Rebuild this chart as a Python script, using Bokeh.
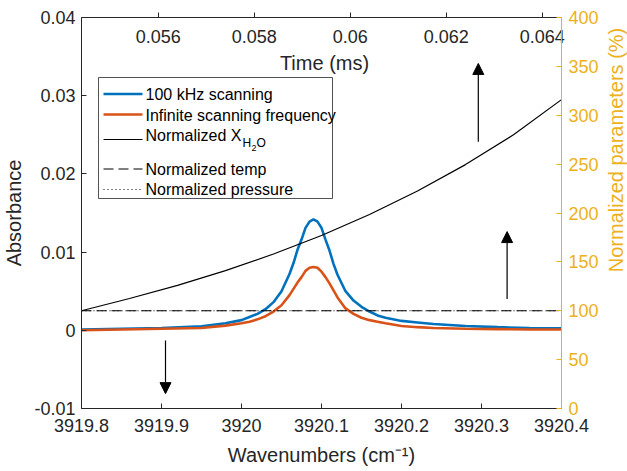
import math
from bokeh.plotting import figure
from bokeh.layouts import row
from bokeh.models import (Range1d, LinearAxis, FixedTicker, Label, Arrow,
                          NormalHead, BoxAnnotation)
from bokeh.embed import file_html
from bokeh.resources import INLINE

# ---------------- data ----------------
wavenumber = [3919.80, 3919.85, 3919.90, 3919.95, 3919.98, 3920.00, 3920.01, 3920.02, 3920.03,
              3920.04, 3920.05, 3920.06, 3920.065, 3920.07, 3920.075, 3920.08, 3920.085,
              3920.09, 3920.095, 3920.10, 3920.105, 3920.11, 3920.115, 3920.12, 3920.13,
              3920.14, 3920.15, 3920.16, 3920.17, 3920.18, 3920.20, 3920.22, 3920.24,
              3920.28, 3920.32, 3920.36, 3920.40]
abs_100khz = [0.0001, 0.0002, 0.0003, 0.0005, 0.0009, 0.0013, 0.0017, 0.0021, 0.0027,
              0.0036, 0.0050, 0.0072, 0.0086, 0.0103, 0.0116, 0.0131, 0.0139,
              0.0142, 0.0139, 0.0131, 0.0116, 0.0102, 0.0085, 0.0071, 0.0050,
              0.0038, 0.0030, 0.0024, 0.0019, 0.0016, 0.0012, 0.0010, 0.0008,
              0.00055, 0.0004, 0.0003, 0.00025]
abs_infinite = [0.0000, 0.0001, 0.0002, 0.0003, 0.0006, 0.0009, 0.0011, 0.0014, 0.0018,
                0.0024, 0.0032, 0.0045, 0.0053, 0.0061, 0.0068, 0.0076, 0.0080,
                0.0081, 0.0080, 0.0075, 0.0068, 0.0060, 0.0051, 0.0042, 0.0028,
                0.0021, 0.0016, 0.0013, 0.0011, 0.0009, 0.00055, 0.0004, 0.0003,
                0.0002, 0.00015, 0.0001, 0.0001]

time_ms = [0.0544, 0.0554, 0.0564, 0.0574, 0.0584, 0.0594, 0.0604, 0.0614, 0.0624, 0.0634, 0.0644]
xh2o_pct = [100, 112.5, 126, 141, 158, 177, 198.5, 222.5, 249.5, 280, 316]
temp_time = [0.0544, 0.0644]
temp_pct = [100, 100]
pres_time = [0.0544, 0.0644]
pres_pct = [100, 100]

x_ticks = [3919.8, 3919.9, 3920.0, 3920.1, 3920.2, 3920.3, 3920.4]
x_tick_labels = ["3919.8", "3919.9", "3920", "3920.1", "3920.2", "3920.3", "3920.4"]
y_ticks = [-0.01, 0.0, 0.01, 0.02, 0.03, 0.04]
y_tick_labels = ["-0.01", "0", "0.01", "0.02", "0.03", "0.04"]
pct_ticks = [0, 50, 100, 150, 200, 250, 300, 350, 400]
pct_tick_labels = ["0", "50", "100", "150", "200", "250", "300", "350", "400"]
time_ticks = [0.056, 0.058, 0.060, 0.062, 0.064]
time_tick_labels = ["0.056", "0.058", "0.06", "0.062", "0.064"]

series_names = ["100 kHz scanning", "Infinite scanning frequency", "Normalized X",
                "Normalized temp", "Normalized pressure"]

# arrows (annotation positions)
arrow_down_wn, arrow_down_abs = 3919.905, (-0.0013, -0.0081)
arrow_up1_wn, arrow_up1_pct = 3920.296, (273, 353)
arrow_up2_wn, arrow_up2_pct = 3920.332, (112, 181)

# ---------------- style ----------------
FONT = "Liberation Sans"
TXT = "#262626"
GOLD = "#EDB120"
BLUE = "#0072BD"
ORANGE = "#D95319"
TICK_FS = "18px"
LAB_FS = "20px"
LEG_FS = "16px"

W_MAIN = 601
FL, FT, FR, FB = 77, 17, 563, 408      # frame edges in canvas px
FH = FB - FT

p = figure(width=W_MAIN, height=471,
           x_range=Range1d(3919.8, 3920.4), y_range=Range1d(-0.01, 0.04),
           output_backend="svg", toolbar_location=None,
           min_border_left=FL, min_border_right=W_MAIN - FR,
           min_border_top=FT, min_border_bottom=471 - FB)
p.extra_x_ranges = {"time": Range1d(0.0544, 0.0644)}
p.extra_y_ranges = {"pct": Range1d(0, 400)}
p.outline_line_color = None
p.grid.visible = False
p.background_fill_color = "white"
p.border_fill_color = "white"


def style_axis(ax, color, ticks, labels, tin, tout):
    ax.ticker = FixedTicker(ticks=ticks)
    ax.major_label_overrides = dict(zip(ticks, labels))
    ax.axis_line_color = color
    ax.axis_line_width = 1
    ax.major_tick_line_color = color
    ax.major_tick_in = tin
    ax.major_tick_out = tout
    ax.minor_tick_line_color = None
    ax.major_label_text_font = FONT
    ax.major_label_text_font_size = TICK_FS
    ax.major_label_text_color = color
    ax.axis_label_text_font = FONT
    ax.axis_label_text_font_size = LAB_FS
    ax.axis_label_text_font_style = "normal"
    ax.axis_label_text_color = color


xb = p.xaxis[0]
style_axis(xb, TXT, x_ticks, x_tick_labels, 5, 0)
xb.major_label_standoff = 10
xb.axis_label = "Wavenumbers (cm\u207b\u00b9)"
xb.axis_label_standoff = 9

yl = p.yaxis[0]
style_axis(yl, TXT, y_ticks, y_tick_labels, 5, 0)
yl.major_label_standoff = 6
yl.axis_label = "Absorbance"
yl.axis_label_standoff = 6

yr = LinearAxis(y_range_name="pct")
style_axis(yr, GOLD, pct_ticks, pct_tick_labels, 5, 0)
yr.major_label_standoff = 7
p.add_layout(yr, "right")

# time axis on top: ticks point outwards, tick labels sit inside the frame
xt = LinearAxis(x_range_name="time")
style_axis(xt, TXT, time_ticks, time_tick_labels, 0, 5)
xt.major_label_standoff = -30
p.add_layout(xt, "above")

p.add_layout(Label(x=(FR - FL) / 2, x_units="screen", y=FB - 62, y_units="screen",
                   text="Time (ms)", text_align="center", text_baseline="middle",
                   text_font=FONT, text_font_size=LAB_FS, text_color=TXT))

# ---------------- curves ----------------
p.line(wavenumber, abs_100khz, line_color=BLUE, line_width=2.6)
p.line(wavenumber, abs_infinite, line_color=ORANGE, line_width=2.6)
p.line(time_ms, xh2o_pct, x_range_name="time", y_range_name="pct",
       line_color="black", line_width=1.2)
p.line(temp_time, temp_pct, x_range_name="time", y_range_name="pct",
       line_color="black", line_width=1.1, line_dash="10 5")
p.line(pres_time, pres_pct, x_range_name="time", y_range_name="pct",
       line_color="black", line_width=1.1, line_dash="1 3")

# ---------------- arrows ----------------
def head():
    return NormalHead(size=11, fill_color="black", line_color="black", line_width=1)

p.add_layout(Arrow(end=head(), x_start=arrow_down_wn, y_start=arrow_down_abs[0],
                   x_end=arrow_down_wn, y_end=arrow_down_abs[1],
                   line_color="black", line_width=1.2))
p.add_layout(Arrow(end=head(), x_start=arrow_up1_wn, y_start=arrow_up1_pct[0],
                   x_end=arrow_up1_wn, y_end=arrow_up1_pct[1], y_range_name="pct",
                   line_color="black", line_width=1.2))
p.add_layout(Arrow(end=head(), x_start=arrow_up2_wn, y_start=arrow_up2_pct[0],
                   x_end=arrow_up2_wn, y_end=arrow_up2_pct[1], y_range_name="pct",
                   line_color="black", line_width=1.2))

# ---------------- legend (manual, to allow the subscript) ----------------
def sx(xc):
    return xc - FL


def sy(yc):
    return FB - yc


p.add_layout(BoxAnnotation(left=sx(94), right=sx(328), top=sy(77), bottom=sy(198),
                           left_units="screen", right_units="screen",
                           top_units="screen", bottom_units="screen",
                           fill_color="white", fill_alpha=1.0,
                           line_color=TXT, line_width=0.8, line_alpha=1.0))

row_text_y = [94, 114.5, 135, 169, 189]
row_line_y = [93.5, 114, 139, 168.5, 189]
leg_styles = [dict(line_color=BLUE, line_width=2.6, line_dash="solid"),
              dict(line_color=ORANGE, line_width=2.6, line_dash="solid"),
              dict(line_color="black", line_width=1.2, line_dash="solid"),
              dict(line_color="black", line_width=1.1, line_dash="10 5"),
              dict(line_color="black", line_width=1.1, line_dash="1 3")]
for name, ty, ly, st in zip(series_names, row_text_y, row_line_y, leg_styles):
    p.add_layout(Arrow(end=None, start=None, x_start=sx(99), y_start=sy(ly),
                       x_end=sx(138), y_end=sy(ly),
                       start_units="screen", end_units="screen", **st))
    p.add_layout(Label(x=sx(141), y=sy(ty), x_units="screen", y_units="screen",
                       text=name, text_align="left", text_baseline="middle",
                       text_font=FONT, text_font_size=LEG_FS, text_color="black"))

# subscript H2O
sub_x0 = 141 + 97
p.add_layout(Label(x=sx(sub_x0), y=sy(142), x_units="screen", y_units="screen",
                   text="H", text_align="left", text_baseline="middle",
                   text_font=FONT, text_font_size="12px", text_color="black"))
p.add_layout(Label(x=sx(sub_x0 + 9), y=sy(147), x_units="screen", y_units="screen",
                   text="2", text_align="left", text_baseline="middle",
                   text_font=FONT, text_font_size="9px", text_color="black"))
p.add_layout(Label(x=sx(sub_x0 + 14), y=sy(142), x_units="screen", y_units="screen",
                   text="O", text_align="left", text_baseline="middle",
                   text_font=FONT, text_font_size="12px", text_color="black"))

# ---------------- right-axis title strip (reads bottom to top) ----------------
W_STRIP = 627 - W_MAIN
p2 = figure(width=W_STRIP, height=471, output_backend="svg", toolbar_location=None,
            x_range=Range1d(0, 1), y_range=Range1d(0, 1),
            x_axis_location=None, y_axis_location=None, min_border=0)
p2.outline_line_color = None
p2.grid.visible = False
p2.background_fill_color = "white"
p2.border_fill_color = "white"
p2.add_layout(Label(x=615 - W_MAIN, x_units="screen", y=471 - (FT + FB) / 2, y_units="screen",
                    text="Normalized parameters (%)", angle=math.pi / 2,
                    text_align="center", text_baseline="middle",
                    text_font=FONT, text_font_size=LAB_FS, text_color=GOLD))

layout = row(p, p2, spacing=0)
open("out.html", "w").write(file_html(layout, INLINE))
